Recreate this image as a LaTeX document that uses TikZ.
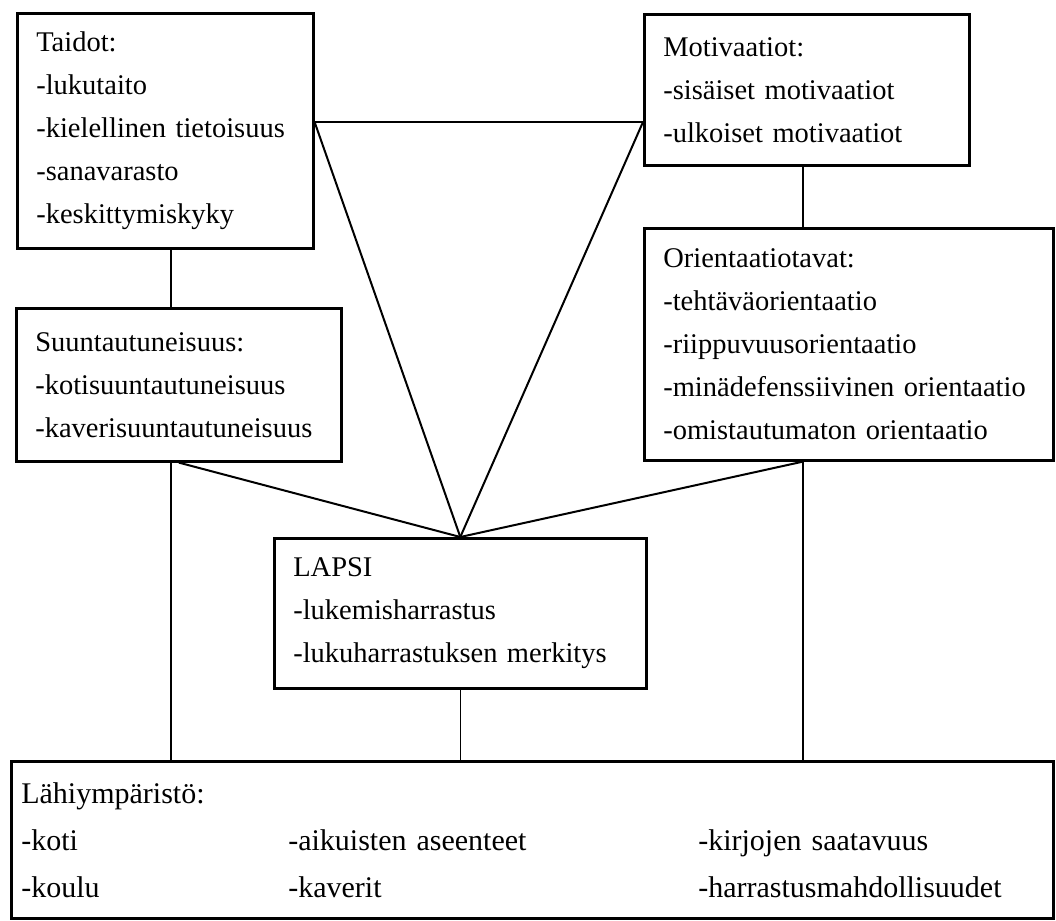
\documentclass[tikz,border=0pt]{standalone}
\usepackage{fontspec}
\setmainfont{Liberation Serif}

\begin{document}
\begin{tikzpicture}[x=1pt,y=-1pt,
		box/.style={draw,line width=2.6pt,anchor=north west,align=left,inner xsep=19pt,inner ysep=0pt,font=\fontsize{28.5}{43}\selectfont},
		link/.style={line width=1.3pt},
		spoke/.style={line width=2pt}]
				\useasboundingbox (0,0) rectangle (1056,920);
				\node[box,text width=258pt,minimum height=235pt] (taidot) at (16,12) {Taidot:\\-lukutaito\\-kielellinen tietoisuus\\-sanavarasto\\-keskittymiskyky};
				\node[box,text width=287pt,minimum height=151pt] (motiv) at (643,13) {Motivaatiot:\\-sisäiset motivaatiot\\-ulkoiset motivaatiot};
				\node[box,text width=287pt,minimum height=153pt] (suunt) at (15,307) {Suuntautuneisuus:\\-kotisuuntautuneisuus\\-kaverisuuntautuneisuus};
				\node[box,text width=371pt,minimum height=232pt] (orient) at (643,227) {Orientaatiotavat:\\-tehtäväorientaatio\\-riippuvuusorientaatio\\-minädefenssiivinen orientaatio\\-omistautumaton orientaatio};
				\node[box,text width=334pt,minimum height=150pt] (lapsi) at (273,537) {LAPSI\\-lukemisharrastus\\-lukuharrastuksen merkitys};
				\node[box,inner xsep=10pt,text width=1022pt,minimum height=157pt,font=\fontsize{30}{47}\selectfont] (lahi) at (10,760) {Lähiympäristö:\\\makebox[267pt][l]{-koti}\makebox[410pt][l]{-aikuisten aseenteet}-kirjojen saatavuus\\\makebox[267pt][l]{-koulu}\makebox[410pt][l]{-kaverit}-harrastusmahdollisuudet\\[-6pt]};
				\coordinate (lcol) at (171,0);
				\coordinate (rcol) at (803,0);
				\coordinate (tline) at (0,122);
				\draw[link] (taidot.south -| lcol) -- (suunt.north -| lcol);
				\draw[link] (suunt.south -| lcol) -- (lahi.north -| lcol);
				\draw[link] (motiv.south -| rcol) -- (orient.north -| rcol);
				\draw[link] (orient.south -| rcol) -- (lahi.north -| rcol);
				\draw[link] (lapsi.south) -- (lahi.north -| lapsi.south);
				\draw[link] (taidot.east |- tline) -- (motiv.west |- tline);
				\draw[spoke] (taidot.east |- tline) -- (lapsi.north);
				\draw[spoke] (motiv.west |- tline) -- (lapsi.north);
				\draw[spoke] (suunt.south) -- (lapsi.north);
				\draw[spoke] (orient.south -| rcol) -- (lapsi.north);
			\end{tikzpicture}
\end{document}
